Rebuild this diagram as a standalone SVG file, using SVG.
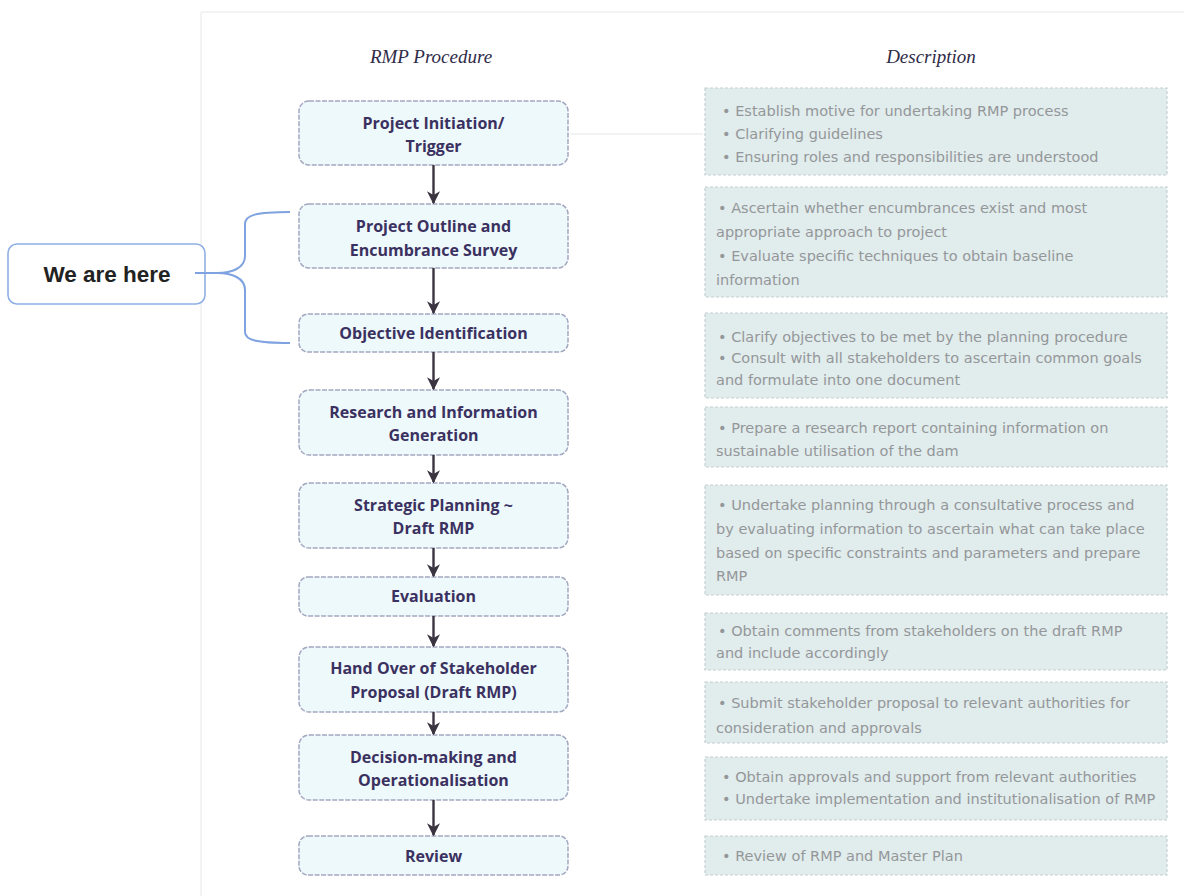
<svg xmlns="http://www.w3.org/2000/svg" width="1184" height="896" viewBox="0 0 1184 896">
<style>
.hdr{font-family:"Liberation Serif",serif;font-style:italic;font-size:19px;fill:#2f2b48;text-anchor:middle}
.node rect{fill:#eef9fc;stroke:#a3a8c0;stroke-width:1.5;stroke-dasharray:5 1.5}
.node text{font-family:"Open Sans","Liberation Sans",sans-serif;font-weight:bold;font-size:16px;fill:#3b3160;text-anchor:middle}
.desc rect{fill:#e1ecec;stroke:#c3cfd0;stroke-width:1.2;stroke-dasharray:3 2}
.desc text{font-family:"DejaVu Sans","Liberation Sans",sans-serif;font-size:14.5px;fill:#94979a}
.arrow{stroke:#3a3340;stroke-width:2.4;fill:none;marker-end:url(#ah)}
</style>
<defs>
<marker id="ah" viewBox="0 0 10 10" refX="9" refY="5" markerWidth="5.5" markerHeight="5.5" orient="auto" markerUnits="strokeWidth">
<path d="M0,0 L10,5 L0,10 L3,5 Z" fill="#3a3340"/>
</marker>
</defs>
<rect width="1184" height="896" fill="#ffffff"/>
<line x1="201" y1="12" x2="201" y2="896" stroke="#eceff1" stroke-width="1.5"/>
<line x1="201" y1="12" x2="1184" y2="12" stroke="#eceff1" stroke-width="1.5"/>
<line x1="570" y1="134" x2="703" y2="134" stroke="#e4e8ea" stroke-width="1.2"/>

<text class="hdr" x="431" y="63">RMP Procedure</text>
<text class="hdr" x="931" y="63">Description</text>

<g id="n1" class="node"><rect x="299" y="101" width="269" height="64" rx="10"/><text x="433.5" y="129">Project Initiation/</text><text x="433.5" y="152">Trigger</text></g>
<g id="n2" class="node"><rect x="299" y="204" width="269" height="64" rx="10"/><text x="433.5" y="232">Project Outline and</text><text x="433.5" y="256">Encumbrance Survey</text></g>
<g id="n3" class="node"><rect x="299" y="314" width="269" height="38" rx="9"/><text x="433.5" y="339">Objective Identification</text></g>
<g id="n4" class="node"><rect x="299" y="390" width="269" height="65" rx="10"/><text x="433.5" y="418">Research and Information</text><text x="433.5" y="441">Generation</text></g>
<g id="n5" class="node"><rect x="299" y="483" width="269" height="65" rx="10"/><text x="433.5" y="511">Strategic Planning ~</text><text x="433.5" y="534">Draft RMP</text></g>
<g id="n6" class="node"><rect x="299" y="577" width="269" height="39" rx="9"/><text x="433.5" y="602">Evaluation</text></g>
<g id="n7" class="node"><rect x="299" y="647" width="269" height="65" rx="10"/><text x="433.5" y="674">Hand Over of Stakeholder</text><text x="433.5" y="698">Proposal (Draft RMP)</text></g>
<g id="n8" class="node"><rect x="299" y="735" width="269" height="65" rx="10"/><text x="433.5" y="763">Decision-making and</text><text x="433.5" y="786">Operationalisation</text></g>
<g id="n9" class="node"><rect x="299" y="836" width="269" height="39" rx="9"/><text x="433.5" y="862">Review</text></g>

<g id="d1" class="desc"><rect x="705" y="88" width="462" height="87"/><text x="722" y="116">•  Establish motive for undertaking RMP process</text><text x="722" y="139">•  Clarifying guidelines</text><text x="722" y="162">•  Ensuring roles and responsibilities are understood</text></g>
<g id="d2" class="desc"><rect x="705" y="187" width="462" height="110"/><text x="718" y="213">•   Ascertain whether encumbrances exist and most</text><text x="716" y="237">appropriate approach to project</text><text x="718" y="261">•   Evaluate specific techniques to obtain baseline</text><text x="716" y="285">information</text></g>
<g id="d3" class="desc"><rect x="705" y="313" width="462" height="85"/><text x="718" y="342">•  Clarify objectives to be met by the planning procedure</text><text x="718" y="363">•  Consult with all stakeholders to ascertain common goals</text><text x="716" y="385">and formulate into one document</text></g>
<g id="d4" class="desc"><rect x="705" y="407" width="462" height="60"/><text x="718" y="433">•  Prepare a research report containing information on</text><text x="716" y="456">sustainable utilisation of the dam</text></g>
<g id="d5" class="desc"><rect x="705" y="485" width="462" height="110"/><text x="718" y="510">•  Undertake planning through a consultative process and</text><text x="716" y="534">by evaluating information to ascertain what can take place</text><text x="716" y="558">based on specific constraints and parameters and prepare</text><text x="716" y="581">RMP</text></g>
<g id="d6" class="desc"><rect x="705" y="613" width="462" height="57"/><text x="718" y="636">•  Obtain comments from stakeholders on the draft RMP</text><text x="716" y="658">and include accordingly</text></g>
<g id="d7" class="desc"><rect x="705" y="682" width="462" height="61"/><text x="718" y="708">•  Submit stakeholder proposal to relevant authorities for</text><text x="716" y="733">consideration and approvals</text></g>
<g id="d8" class="desc"><rect x="705" y="757" width="462" height="63"/><text x="722" y="782">•  Obtain approvals and support from relevant authorities</text><text x="722" y="804">•  Undertake implementation and institutionalisation of RMP</text></g>
<g id="d9" class="desc"><rect x="705" y="836" width="462" height="39"/><text x="722" y="861">•  Review of RMP and Master Plan</text></g>

<g id="here">
<rect x="8" y="244" width="197" height="60" rx="9" fill="#ffffff" stroke="#8fb0e3" stroke-width="1.6"/>
<text x="107" y="282" font-family="'Liberation Sans',Arial,sans-serif" font-weight="bold" font-size="22.5px" fill="#222222" text-anchor="middle">We are here</text>
</g>

<g id="connectors">
<path d="M195,273 L217,273 C232,273 245,268 245,256 L245,224 C245,215 256,212 290,212" fill="none" stroke="#7fa2e0" stroke-width="2"/>
<path d="M217,273 C232,273 245,278 245,290 L245,332 C245,340 256,343 290,343" fill="none" stroke="#7fa2e0" stroke-width="2"/>
<line class="arrow" x1="433.5" y1="165" x2="433.5" y2="203"/>
<line class="arrow" x1="433.5" y1="268" x2="433.5" y2="313"/>
<line class="arrow" x1="433.5" y1="352" x2="433.5" y2="389"/>
<line class="arrow" x1="433.5" y1="455" x2="433.5" y2="482"/>
<line class="arrow" x1="433.5" y1="548" x2="433.5" y2="576"/>
<line class="arrow" x1="433.5" y1="616" x2="433.5" y2="646"/>
<line class="arrow" x1="433.5" y1="712" x2="433.5" y2="734"/>
<line class="arrow" x1="433.5" y1="800" x2="433.5" y2="835"/>
</g>
</svg>
